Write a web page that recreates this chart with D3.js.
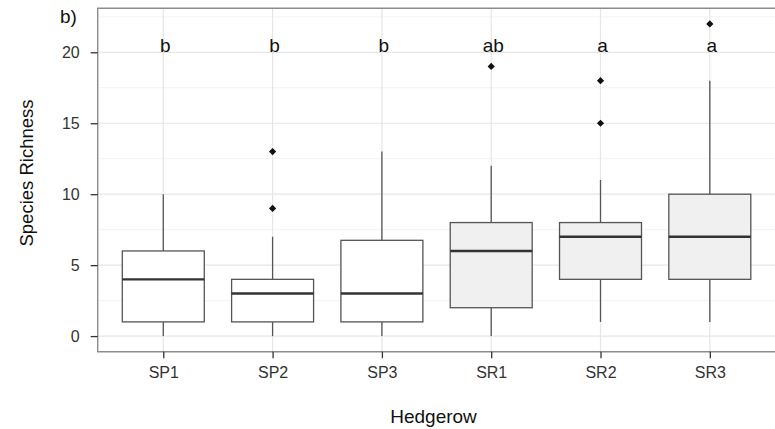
<!DOCTYPE html>
<html>
<head>
<meta charset="utf-8">
<script src="https://cdn.jsdelivr.net/npm/d3@7"></script>
<style>
  html, body { margin: 0; padding: 0; background: #fff; }
  svg { display: block; font-family: "Liberation Sans", Arial, Helvetica, sans-serif; }
</style>
</head>
<body>
<svg id="chart" width="775" height="429"></svg>
<script>
// ---- data ----
const categories   = ["SP1", "SP2", "SP3", "SR1", "SR2", "SR3"];
const groups       = ["SP", "SP", "SP", "SR", "SR", "SR"];
const whiskerLow   = [0, 0, 0, 0, 1, 1];
const q1           = [1, 1, 1, 2, 4, 4];
const medians      = [4, 3, 3, 6, 7, 7];
const q3           = [6, 4, 6.75, 8, 8, 10];
const whiskerHigh  = [10, 7, 13, 12, 11, 18];
const outliers     = [[], [9, 13], [], [19], [15, 18], [22]];
const sigLetters   = ["b", "b", "b", "ab", "a", "a"];
const yTicks       = [0, 5, 10, 15, 20];
const yMinorTicks  = [2.5, 7.5, 12.5, 17.5, 22.5];
const panelLabel   = "b)";
const xTitle       = "Hedgerow";
const yTitle       = "Species Richness";

// ---- layout ----
const svg = d3.select("#chart");
const panel = { left: 97.7, top: 8.3, right: 775.4, bottom: 351.7 };

const x = d3.scalePoint().domain(categories).range([panel.left, panel.right]).padding(0.6);
const y = d3.scaleLinear().domain([-1.1, 23.1]).range([panel.bottom, panel.top]);
const boxW = x.step() * 0.75;
const fillColor = d3.scaleOrdinal().domain(["SP", "SR"]).range(["#ffffff", "#f0f0f0"]);

const g = svg.append("g");

// grid
g.selectAll("line.minor").data(yMinorTicks).join("line")
  .attr("x1", panel.left).attr("x2", panel.right)
  .attr("y1", d => y(d)).attr("y2", d => y(d))
  .attr("stroke", "#f3f3f3").attr("stroke-width", 1);
g.selectAll("line.majorY").data(yTicks).join("line")
  .attr("x1", panel.left).attr("x2", panel.right)
  .attr("y1", d => y(d)).attr("y2", d => y(d))
  .attr("stroke", "#e6e6e6").attr("stroke-width", 1.2);
g.selectAll("line.majorX").data(categories).join("line")
  .attr("x1", d => x(d)).attr("x2", d => x(d))
  .attr("y1", panel.top).attr("y2", panel.bottom)
  .attr("stroke", "#e6e6e6").attr("stroke-width", 1.2);

// boxes
const data = categories.map((c, i) => ({
  c, grp: groups[i], lo: whiskerLow[i], q1: q1[i], med: medians[i],
  q3: q3[i], hi: whiskerHigh[i], out: outliers[i], letter: sigLetters[i]
}));

const bx = g.selectAll("g.box").data(data).join("g");
const strokeC = "#555555";
bx.append("line")
  .attr("x1", d => x(d.c)).attr("x2", d => x(d.c))
  .attr("y1", d => y(d.q3)).attr("y2", d => y(d.hi))
  .attr("stroke", strokeC).attr("stroke-width", 1.3);
bx.append("line")
  .attr("x1", d => x(d.c)).attr("x2", d => x(d.c))
  .attr("y1", d => y(d.q1)).attr("y2", d => y(d.lo))
  .attr("stroke", strokeC).attr("stroke-width", 1.3);
bx.append("rect")
  .attr("x", d => x(d.c) - boxW / 2).attr("width", boxW)
  .attr("y", d => y(d.q3)).attr("height", d => y(d.q1) - y(d.q3))
  .attr("fill", d => fillColor(d.grp))
  .attr("stroke", strokeC).attr("stroke-width", 1.3);
bx.append("line")
  .attr("x1", d => x(d.c) - boxW / 2).attr("x2", d => x(d.c) + boxW / 2)
  .attr("y1", d => y(d.med)).attr("y2", d => y(d.med))
  .attr("stroke", "#333333").attr("stroke-width", 2.4);

// outliers (diamond-looking points)
const diamond = d3.symbol().type(d3.symbolSquare).size(26);
bx.selectAll("path.out").data(d => d.out.map(v => ({ c: d.c, v }))).join("path")
  .attr("d", diamond)
  .attr("transform", d => `translate(${x(d.c)},${y(d.v)}) rotate(45)`)
  .attr("fill", "#111");

// significance letters
bx.append("text")
  .attr("x", d => x(d.c) + 2)
  .attr("y", d => y(20))
  .attr("text-anchor", "middle")
  .attr("font-size", 19)
  .attr("fill", "#111")
  .text(d => d.letter);

// panel border
g.append("path")
  .attr("d", `M${panel.right},${panel.top}H${panel.left}V${panel.bottom}H${panel.right}`)
  .attr("fill", "none").attr("stroke", "#8c8c8c").attr("stroke-width", 1.4);

// axes
const yAxis = d3.axisLeft(y).tickValues(yTicks).tickSize(7).tickPadding(11);
const ya = svg.append("g").attr("transform", `translate(${panel.left},0)`).call(yAxis);
ya.select(".domain").remove();
ya.selectAll(".tick line").attr("stroke", "#333").attr("stroke-width", 1.3);
ya.selectAll(".tick text").attr("font-size", 16).attr("fill", "#333")
  .attr("font-family", "Liberation Sans, Arial, sans-serif");

const xAxis = d3.axisBottom(x).tickSize(6.5).tickPadding(8);
const xa = svg.append("g").attr("transform", `translate(0,${panel.bottom})`).call(xAxis);
xa.select(".domain").remove();
xa.selectAll(".tick line").attr("stroke", "#333").attr("stroke-width", 1.3);
xa.selectAll(".tick text").attr("font-size", 16).attr("fill", "#333")
  .attr("font-family", "Liberation Sans, Arial, sans-serif");

// titles
svg.append("text")
  .attr("x", (panel.left + panel.right) / 2 - 3).attr("y", 423)
  .attr("text-anchor", "middle").attr("font-size", 19).attr("fill", "#111")
  .text(xTitle);
svg.append("text")
  .attr("transform", `translate(33,${(panel.top + panel.bottom) / 2 - 7}) rotate(-90)`)
  .attr("text-anchor", "middle").attr("font-size", 18.5).attr("fill", "#111")
  .text(yTitle);
svg.append("text")
  .attr("x", 60).attr("y", 23)
  .attr("font-size", 19).attr("fill", "#111")
  .text(panelLabel);
</script>
</body>
</html>
